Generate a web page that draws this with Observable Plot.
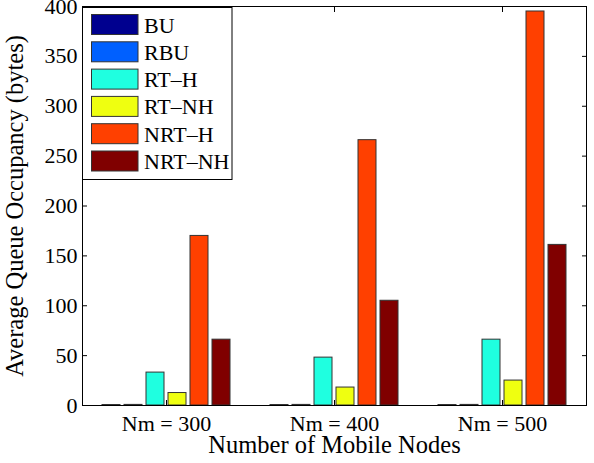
<!DOCTYPE html>
<html><head><meta charset="utf-8">
<script src="https://cdn.jsdelivr.net/npm/d3@7"></script>
<script src="https://cdn.jsdelivr.net/npm/@observablehq/plot@0.6"></script>
<style>
html,body{margin:0;padding:0;background:#fff;}
#wrap{position:relative;width:594px;height:463px;}
#wrap svg{display:block;}
#legend{position:absolute;left:0;top:0;}
</style></head><body><div id="wrap"></div>
<script>
const groups = ["Nm = 300", "Nm = 400", "Nm = 500"];
const series = ["BU", "RBU", "RT\u2013H", "RT\u2013NH", "NRT\u2013H", "NRT\u2013NH"];
const colors = ["#00008F", "#0060FF", "#1FFFE0", "#EFFF10", "#FF4000", "#800000"];
const BU = [0.5, 0.5, 0.5];
const RBU = [0.6, 0.6, 0.6];
const RT_H = [33, 48, 66];
const RT_NH = [12.5, 18, 25];
const NRT_H = [170, 266, 395];
const NRT_NH = [66, 105, 161];
const valuesBySeries = [BU, RBU, RT_H, RT_NH, NRT_H, NRT_NH];
const yTicks = [0, 50, 100, 150, 200, 250, 300, 350, 400];
const xLabel = "Number of Mobile Nodes";
const yLabel = "Average Queue Occupancy (bytes)";

const rows = groups.flatMap((g, i) => series.map((s, j) => ({group: g, series: s, value: valuesBySeries[j][i]})));

const font = "'Liberation Serif', 'Times New Roman', serif";
const plot = Plot.plot({
  width: 594, height: 463,
  marginLeft: 81, marginRight: 8, marginTop: 6, marginBottom: 58,
  style: {fontFamily: font, background: "white", color: "black", overflow: "visible"},
  fx: {domain: groups, padding: 0, label: null},
  x: {domain: series, paddingInner: 0.2, paddingOuter: 0.84, axis: null},
  y: {domain: [0, 400]},
  color: {domain: series, range: colors},
  marks: [
    Plot.barY(rows, {fx: "group", x: "series", y: "value", fill: "series", stroke: "#333", strokeWidth: 1}),
    Plot.frame({facet: "super", stroke: "black"}),
    Plot.axisY({anchor: "left", ticks: yTicks, tickSize: -5, tickPadding: 10, fontSize: 22, label: null}),
    Plot.axisY({anchor: "right", ticks: yTicks, tickSize: -5, tickFormat: () => "", label: null}),
    Plot.axisFx({anchor: "bottom", tickSize: -5, tickPadding: 15, fontSize: 22, label: null}),
    Plot.axisFx({anchor: "top", tickSize: -5, tickFormat: () => "", label: null}),
    Plot.text([yLabel], {frameAnchor: "left", textAnchor: "middle", rotate: -90, dx: -67, lineAnchor: "middle", fontSize: 24.5, facet: "super"}),
    Plot.text([xLabel], {frameAnchor: "bottom", textAnchor: "middle", dy: 39.5, lineAnchor: "middle", fontSize: 24.5, facet: "super"})
  ]
});
const wrap = document.getElementById("wrap");
wrap.appendChild(plot);

// legend overlay inside the plot area (top-left)
const lg = d3.select(wrap).append("svg").attr("id", "legend")
  .attr("width", 594).attr("height", 463)
  .style("font-family", font).style("pointer-events", "none");
lg.append("rect").attr("x", 82.5).attr("y", 7.5).attr("width", 149.5).attr("height", 172)
  .attr("fill", "white").attr("stroke", "black").attr("stroke-width", 1);
const rowH = 27.3;
series.forEach((s, i) => {
  const y0 = 14 + i * rowH;
  lg.append("rect").attr("x", 91.5).attr("y", y0 + 0.5).attr("width", 46.5).attr("height", 20)
    .attr("fill", colors[i]).attr("stroke", "#333").attr("stroke-width", 1);
  lg.append("text").attr("x", 144).attr("y", y0 + 18.5).attr("font-size", 22).attr("fill", "black").text(s);
});
</script></body></html>
